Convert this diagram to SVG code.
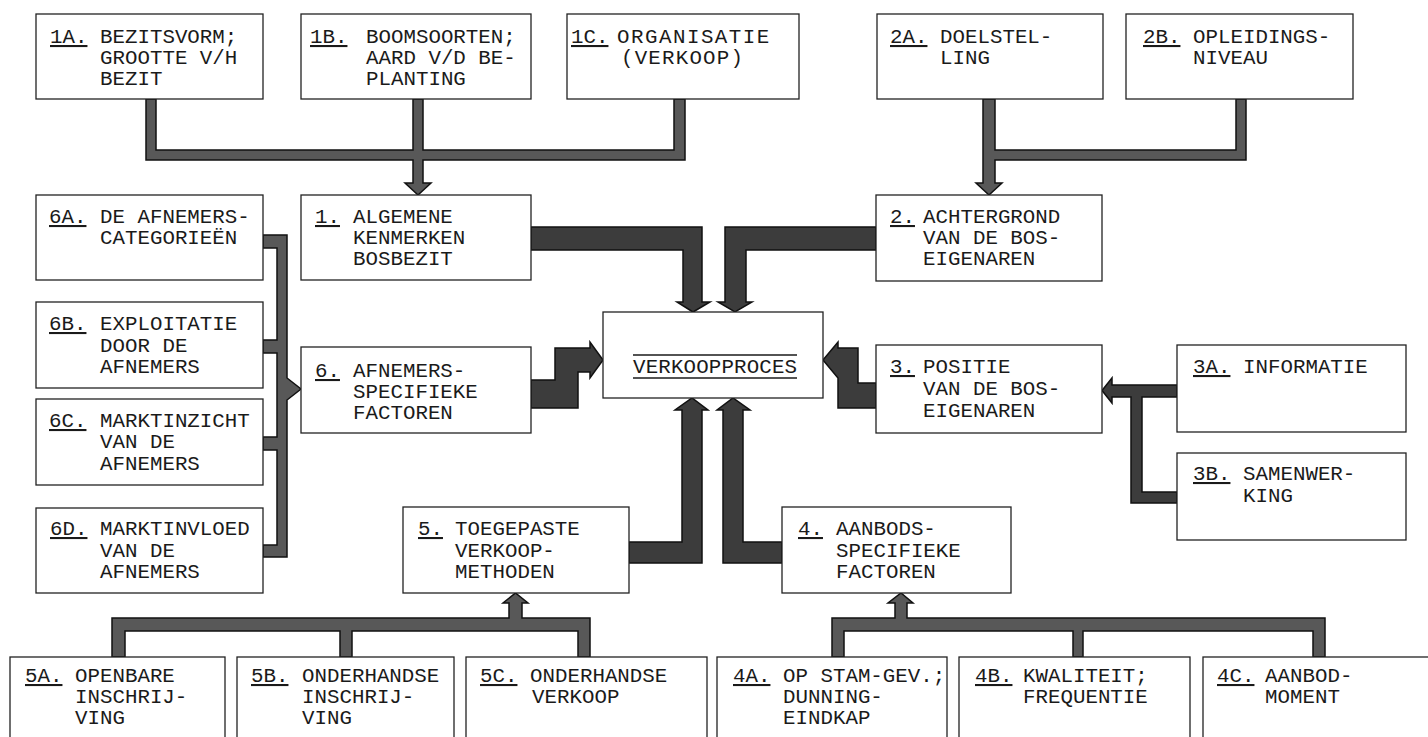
<svg xmlns="http://www.w3.org/2000/svg" width="1428" height="737" viewBox="0 0 1428 737">
<style>
.box{fill:#fff;stroke:#222;stroke-width:1.3}
.t{font-family:"Liberation Mono","DejaVu Sans Mono",monospace;font-size:20.8px;fill:#1a1a1a}
.lb{text-decoration:underline}
.thin{fill:#585858;stroke:#111;stroke-width:1.5;stroke-linejoin:miter}
.thick{fill:#3c3c3c;stroke:#111;stroke-width:1.5;stroke-linejoin:miter}
</style>
<rect width="1428" height="737" fill="#fff"/>
<g id="connectors">
<path class="thin" d="M146,99 L156,99 L156,150 L413,150 L413,99 L423,99 L423,150 L674,150 L674,99 L685,99 L685,160 L423,160 L423,183 L431,183 L418,195 L405,183 L413,183 L413,160 L146,160 Z"/>
<path class="thin" d="M983,99 L995,99 L995,150 L1236,150 L1236,99 L1246,99 L1246,160 L995,160 L995,183 L1002,183 L989,195 L976,183 L983,183 Z"/>
<path class="thick" d="M531,227 L702,227 L702,302 L710,302 L693,312 L677,302 L683,302 L683,250 L531,250 Z"/>
<path class="thick" d="M876,227 L725,227 L725,302 L718,302 L735,312 L752,302 L746,302 L746,250 L876,250 Z"/>
<path class="thick" d="M531,380 L555,380 L555,348 L590,348 L590,342 L603,360 L590,378 L590,372 L578,372 L578,408 L531,408 Z"/>
<path class="thick" d="M876,383 L858,383 L858,348 L838,348 L838,342 L823,360 L838,378 L838,408 L876,408 Z"/>
<path class="thick" d="M629,542 L682,542 L682,410 L675,410 L692,398 L708,410 L702,410 L702,563 L629,563 Z"/>
<path class="thick" d="M782,542 L743,542 L743,410 L750,410 L733,398 L717,410 L723,410 L723,563 L782,563 Z"/>
<path class="thin" d="M112,657 L112,618 L509,618 L509,603 L503,603 L515.5,593 L528,603 L522,603 L522,618 L590,618 L590,657 L578,657 L578,631 L352,631 L352,657 L340,657 L340,631 L125,631 L125,657 Z"/>
<path class="thin" d="M832,657 L832,618 L895,618 L895,603 L888,603 L901,593 L913,603 L907,603 L907,618 L1325,618 L1325,657 L1313,657 L1313,631 L1083,631 L1083,657 L1073,657 L1073,631 L844,631 L844,657 Z"/>
<path class="thin" d="M263,235 L287,235 L287,378 L301,389 L287,400 L287,557 L263,557 L263,545 L277,545 L277,450 L263,450 L263,437 L277,437 L277,353 L263,353 L263,340 L277,340 L277,248 L263,248 Z"/>
<path class="thick" d="M1177,385 L1112,385 L1112,378 L1102,390.5 L1112,403 L1112,397 L1131,397 L1131,503 L1177,503 L1177,492 L1142,492 L1142,397 L1177,397 Z"/>
</g>
<g id="n1A"><rect class="box" x="36" y="14" width="227" height="85"/>
<text class="t"><tspan class="lb" x="50" y="43">1A.</tspan><tspan x="100" y="43">BEZITSVORM;</tspan><tspan x="100" y="64">GROOTTE V/H</tspan><tspan x="100" y="85">BEZIT</tspan></text></g>
<g id="n1B"><rect class="box" x="301" y="14" width="230" height="85"/>
<text class="t"><tspan class="lb" x="310" y="43">1B.</tspan><tspan x="366" y="43">BOOMSOORTEN;</tspan><tspan x="366" y="64">AARD V/D BE-</tspan><tspan x="366" y="85">PLANTING</tspan></text></g>
<g id="n1C"><rect class="box" x="567" y="14" width="232" height="85"/>
<text class="t"><tspan class="lb" x="571" y="43">1C.</tspan><tspan x="617" y="43" letter-spacing="1.5">ORGANISATIE</tspan><tspan x="621" y="64" letter-spacing="1.2">(VERKOOP)</tspan></text></g>
<g id="n2A"><rect class="box" x="877" y="14" width="226" height="85"/>
<text class="t"><tspan class="lb" x="890" y="43">2A.</tspan><tspan x="940" y="43">DOELSTEL-</tspan><tspan x="940" y="64">LING</tspan></text></g>
<g id="n2B"><rect class="box" x="1126" y="14" width="227" height="85"/>
<text class="t"><tspan class="lb" x="1143" y="43">2B.</tspan><tspan x="1193" y="43">OPLEIDINGS-</tspan><tspan x="1193" y="64">NIVEAU</tspan></text></g>
<g id="n6A"><rect class="box" x="36" y="195" width="227" height="85"/>
<text class="t"><tspan class="lb" x="49" y="223">6A.</tspan><tspan x="100" y="223">DE AFNEMERS-</tspan><tspan x="100" y="244">CATEGORIEËN</tspan></text></g>
<g id="n1"><rect class="box" x="301" y="195" width="230" height="85"/>
<text class="t"><tspan class="lb" x="315" y="223">1.</tspan><tspan x="353" y="223">ALGEMENE</tspan><tspan x="353" y="244">KENMERKEN</tspan><tspan x="353" y="265">BOSBEZIT</tspan></text></g>
<g id="n2"><rect class="box" x="876" y="195" width="226" height="86"/>
<text class="t"><tspan class="lb" x="890" y="223">2.</tspan><tspan x="923" y="223">ACHTERGROND</tspan><tspan x="923" y="244">VAN DE BOS-</tspan><tspan x="923" y="265">EIGENAREN</tspan></text></g>
<g id="n6B"><rect class="box" x="36" y="302" width="227" height="86"/>
<text class="t"><tspan class="lb" x="49" y="330">6B.</tspan><tspan x="100" y="330">EXPLOITATIE</tspan><tspan x="100" y="352">DOOR DE</tspan><tspan x="100" y="373">AFNEMERS</tspan></text></g>
<g id="n6"><rect class="box" x="301" y="347" width="230" height="86"/>
<text class="t"><tspan class="lb" x="315" y="377">6.</tspan><tspan x="353" y="377">AFNEMERS-</tspan><tspan x="353" y="398">SPECIFIEKE</tspan><tspan x="353" y="419">FACTOREN</tspan></text></g>
<g id="nV"><rect class="box" x="603" y="312" width="220" height="86"/>
<text class="t" x="633" y="373" textLength="164">VERKOOPPROCES</text>
<line x1="633" y1="355" x2="797" y2="355" stroke="#1a1a1a" stroke-width="1.4"/>
<line x1="633" y1="378" x2="797" y2="378" stroke="#1a1a1a" stroke-width="1.4"/></g>
<g id="n3"><rect class="box" x="876" y="345" width="226" height="88"/>
<text class="t"><tspan class="lb" x="890" y="373">3.</tspan><tspan x="923" y="373">POSITIE</tspan><tspan x="923" y="395">VAN DE BOS-</tspan><tspan x="923" y="417">EIGENAREN</tspan></text></g>
<g id="n3A"><rect class="box" x="1177" y="345" width="229" height="87"/>
<text class="t"><tspan class="lb" x="1193" y="373">3A.</tspan><tspan x="1243" y="373">INFORMATIE</tspan></text></g>
<g id="n3B"><rect class="box" x="1177" y="453" width="229" height="87"/>
<text class="t"><tspan class="lb" x="1193" y="480">3B.</tspan><tspan x="1243" y="480">SAMENWER-</tspan><tspan x="1243" y="502">KING</tspan></text></g>
<g id="n6C"><rect class="box" x="36" y="399" width="227" height="86"/>
<text class="t"><tspan class="lb" x="49" y="427">6C.</tspan><tspan x="100" y="427">MARKTINZICHT</tspan><tspan x="100" y="448">VAN DE</tspan><tspan x="100" y="470">AFNEMERS</tspan></text></g>
<g id="n6D"><rect class="box" x="36" y="508" width="227" height="85"/>
<text class="t"><tspan class="lb" x="50" y="535">6D.</tspan><tspan x="100" y="535">MARKTINVLOED</tspan><tspan x="100" y="557">VAN DE</tspan><tspan x="100" y="578">AFNEMERS</tspan></text></g>
<g id="n5"><rect class="box" x="403" y="507" width="226" height="86"/>
<text class="t"><tspan class="lb" x="418" y="535">5.</tspan><tspan x="455" y="535">TOEGEPASTE</tspan><tspan x="455" y="557">VERKOOP-</tspan><tspan x="455" y="578">METHODEN</tspan></text></g>
<g id="n4"><rect class="box" x="782" y="507" width="229" height="86"/>
<text class="t"><tspan class="lb" x="798" y="535">4.</tspan><tspan x="836" y="535">AANBODS-</tspan><tspan x="836" y="557">SPECIFIEKE</tspan><tspan x="836" y="578">FACTOREN</tspan></text></g>
<g id="n5A"><rect class="box" x="10" y="657" width="215" height="90"/>
<text class="t"><tspan class="lb" x="25" y="682">5A.</tspan><tspan x="75" y="682">OPENBARE</tspan><tspan x="75" y="703">INSCHRIJ-</tspan><tspan x="75" y="724">VING</tspan></text></g>
<g id="n5B"><rect class="box" x="237" y="657" width="217" height="90"/>
<text class="t"><tspan class="lb" x="251" y="682">5B.</tspan><tspan x="302" y="682">ONDERHANDSE</tspan><tspan x="302" y="703">INSCHRIJ-</tspan><tspan x="302" y="724">VING</tspan></text></g>
<g id="n5C"><rect class="box" x="466" y="657" width="241" height="90"/>
<text class="t"><tspan class="lb" x="480" y="682">5C.</tspan><tspan x="530" y="682">ONDERHANDSE</tspan><tspan x="532" y="703">VERKOOP</tspan></text></g>
<g id="n4A"><rect class="box" x="717" y="657" width="230" height="90"/>
<text class="t"><tspan class="lb" x="733" y="682">4A.</tspan><tspan x="783" y="682">OP STAM-GEV.;</tspan><tspan x="783" y="703">DUNNING-</tspan><tspan x="783" y="724">EINDKAP</tspan></text></g>
<g id="n4B"><rect class="box" x="959" y="657" width="231" height="90"/>
<text class="t"><tspan class="lb" x="975" y="682">4B.</tspan><tspan x="1023" y="682">KWALITEIT;</tspan><tspan x="1023" y="703">FREQUENTIE</tspan></text></g>
<g id="n4C"><rect class="box" x="1203" y="657" width="240" height="90"/>
<text class="t"><tspan class="lb" x="1217" y="682">4C.</tspan><tspan x="1265" y="682">AANBOD-</tspan><tspan x="1265" y="703">MOMENT</tspan></text></g>
</svg>
